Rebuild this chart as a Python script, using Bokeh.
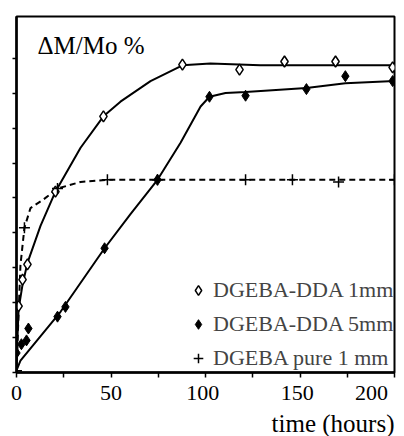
from bokeh.plotting import figure
from bokeh.models import Range1d, Label, Legend, LegendItem, FixedTicker, Title
from bokeh.embed import file_html
from bokeh.resources import INLINE

# --- data (time in hours, mass gain in y-tick units) ---
t_1mm = [1.1, 3.2, 5.8, 20.6, 46.0, 87.8, 118.0, 141.8, 168.8, 199.0]
m_1mm = [1.90, 2.66, 3.10, 5.18, 7.34, 8.82, 8.68, 8.91, 8.91, 8.74]

t_5mm = [0.0, 2.6, 5.3, 6.3, 21.7, 25.9, 46.6, 74.6, 102.1, 121.2, 153.4, 174.0, 199.0]
m_5mm = [0.56, 0.81, 0.92, 1.26, 1.60, 1.88, 3.56, 5.52, 7.90, 7.93, 8.12, 8.49, 8.35]

t_pure = [0.0, 4.2, 21.7, 48.1, 74.6, 121.2, 146.0, 170.4, 200.0]
m_pure = [0.05, 4.15, 5.27, 5.52, 5.52, 5.52, 5.52, 5.46, 5.52]

# fitted curves
fit_1mm_t = [0, 0.5, 1.1, 3.2, 5.8, 12.7, 20.6, 33.9, 46.0, 55.0, 70.9, 87.8, 102.6, 129.0, 150.0, 200.0]
fit_1mm_m = [0, 0.98, 1.82, 2.52, 3.14, 4.20, 5.18, 6.44, 7.34, 7.76, 8.35, 8.80, 8.85, 8.80, 8.80, 8.80]

fit_5mm_t = [0, 2.1, 23.3, 46.6, 60.3, 74.6, 86.8, 97.4, 102.1, 110.6, 121.2, 153.4, 174.0, 200.0]
fit_5mm_m = [0.06, 0.34, 1.74, 3.56, 4.54, 5.52, 6.58, 7.62, 7.90, 8.01, 8.04, 8.15, 8.29, 8.35]

fit_pure_t = [0, 1.1, 2.1, 4.2, 7.4, 14.3, 21.7, 33.9, 48.1, 200.0]
fit_pure_m = [0.05, 1.68, 3.08, 4.15, 4.71, 4.96, 5.27, 5.46, 5.52, 5.52]

series_names = ["DGEBA-DDA 1mm", "DGEBA-DDA 5mm", "DGEBA pure 1 mm"]

xtick_values = [0, 50, 100, 150, 200]
xtick_labels = ["0", "50", "100", "150", "200"]
x_minor = [25, 75, 125, 175]
y_ticks = [0, 1, 2, 3, 4, 5, 6, 7, 8, 9]

FONT = "Liberation Serif"
NB = "\u00a0"
# trailing no-break spaces nudge labels left, as in the scanned original
label_pad = [0, 0, 1, 1, 3]

p = figure(width=404, height=436, output_backend="svg", toolbar_location=None,
           x_range=Range1d(0, 200), y_range=Range1d(0, 10.2),
           min_border_left=16, min_border_right=10, min_border_top=16, min_border_bottom=56)
p.xgrid.visible = False
p.ygrid.visible = False
p.outline_line_color = "black"
p.outline_line_width = 2
p.background_fill_color = "white"
p.border_fill_color = "white"

for ax in (p.xaxis, p.yaxis):
    ax.axis_line_width = 2.5
    ax.axis_line_color = "black"
    ax.major_tick_in = 0
    ax.minor_tick_in = 0
    ax.major_tick_line_width = 1.5
    ax.minor_tick_line_width = 1.5
    ax.major_tick_line_color = "black"
    ax.minor_tick_line_color = "black"

p.xaxis.ticker = FixedTicker(ticks=xtick_values, minor_ticks=x_minor)
p.xaxis.major_label_overrides = {v: lab + NB * k for v, lab, k in zip(xtick_values, xtick_labels, label_pad)}
p.xaxis.major_tick_out = 5
p.xaxis.minor_tick_out = 5
p.xaxis.major_label_standoff = 2
p.xaxis.major_label_text_font = FONT
p.xaxis.major_label_text_font_size = "22px"
p.xaxis.major_label_text_color = "black"

p.add_layout(Title(text="time (hours)", align="right", standoff=0,
                   text_font=FONT, text_font_size="25px", text_font_style="normal",
                   text_color="black"), "below")

# the y axis of the original has tick marks only, no numbers
p.yaxis.ticker = FixedTicker(ticks=y_ticks, minor_ticks=[])
p.yaxis.major_tick_out = 4
p.yaxis.major_label_overrides = {v: "" for v in y_ticks}
p.yaxis.major_label_standoff = 0

# curves
p.line(fit_1mm_t, fit_1mm_m, line_color="black", line_width=2)
p.line(fit_5mm_t, fit_5mm_m, line_color="black", line_width=2)
p.line(fit_pure_t, fit_pure_m, line_color="black", line_width=2, line_dash="6 4")

# points
r1 = p.scatter(t_1mm, m_1mm, marker="diamond", size=11, fill_color="white",
               line_color="black", line_width=1.5)
r2 = p.scatter(t_5mm, m_5mm, marker="diamond", size=11, fill_color="black",
               line_color="black", line_width=1)
r3 = p.scatter(t_pure, m_pure, marker="cross", size=11, line_color="black", line_width=1.5)

legend = Legend(items=[LegendItem(label=series_names[0], renderers=[r1]),
                       LegendItem(label=series_names[1], renderers=[r2]),
                       LegendItem(label=series_names[2], renderers=[r3])],
                location=(170, 1), padding=0, margin=0, spacing=8,
                glyph_width=24, glyph_height=24, label_height=24, label_standoff=3,
                label_text_font=FONT, label_text_font_size="22px",
                border_line_color=None, background_fill_alpha=0)
p.add_layout(legend, "center")

p.add_layout(Label(x=0, y=10.2, text="\u0394M/Mo %", text_align="left",
                   text_baseline="alphabetic", x_offset=21, y_offset=-29,
                   text_font=FONT, text_font_size="25px", text_color="black"))

open("out.html", "w").write(file_html(p, INLINE))
